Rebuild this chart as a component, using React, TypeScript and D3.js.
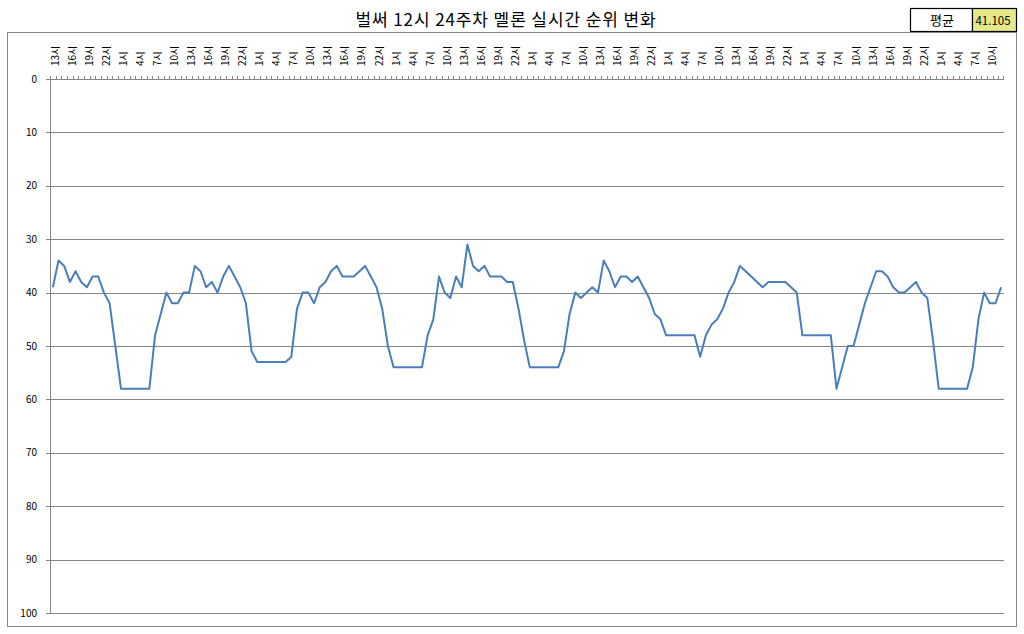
import React from "react";
import * as d3 from "d3";

const title = "벌써 12시 24주차 멜론 실시간 순위 변화";
const avgLabel = "평균";
const avgValue = "41.105";

const tickLabels = [
  "13시","16시","19시","22시","1시","4시","7시","10시",
  "13시","16시","19시","22시","1시","4시","7시","10시",
  "13시","16시","19시","22시","1시","4시","7시","10시",
  "13시","16시","19시","22시","1시","4시","7시","10시",
  "13시","16시","19시","22시","1시","4시","7시","10시",
  "13시","16시","19시","22시","1시","4시","7시","10시",
  "13시","16시","19시","22시","1시","4시","7시","10시",
];

const ranks = [
  39,34,35,38,36,38,39,37,37,40,42,50,
  58,58,58,58,58,58,
  48,44,40,42,42,40,40,35,36,39,38,40,37,35,37,39,42,51,
  53,53,53,53,53,53,
  52,43,40,40,42,39,38,36,35,37,37,37,36,35,37,39,43,50,
  54,54,54,54,54,54,
  48,45,37,40,41,37,39,31,35,36,35,37,37,37,38,38,43,49,
  54,54,54,54,54,54,
  51,44,40,41,40,39,40,34,36,39,37,37,38,37,39,41,44,45,
  48,48,48,48,48,48,
  52,48,46,45,43,40,38,35,36,37,38,39,38,38,38,38,39,40,
  48,48,48,48,48,48,
  58,54,50,50,46,42,39,36,36,37,39,40,40,39,38,40,41,49,
  58,58,58,58,58,58,
  54,45,40,42,42,39,
];

const yTicks = [0, 10, 20, 30, 40, 50, 60, 70, 80, 90, 100];

export default function App() {
  const W = 1024, H = 634;
  const left = 50, right = 1004, top = 79, bottom = 613;
  const font = "'Noto Sans CJK KR', 'Noto Sans', sans-serif";
  const grid = "#868686";

  const x = d3.scaleBand<number>().domain(d3.range(ranks.length)).range([left, right]).padding(0);
  const cx = (i: number) => (x(i) as number) + x.bandwidth() / 2;
  const y = d3.scaleLinear().domain([0, 100]).range([top, bottom]);

  const line = d3.line<number>().x((_, i) => cx(i)).y((d) => y(d));

  return (
    <svg width={W} height={H} style={{ position: "absolute", left: 0, top: 0 }} xmlns="http://www.w3.org/2000/svg">
      <rect x={0} y={0} width={W} height={H} fill="#fff" />
      <text x={506} y={26} textAnchor="middle" fontFamily={font} fontSize={17} letterSpacing={0.9} fill="#000">{title}</text>

      {/* average box */}
      <rect x={910.5} y={8.5} width={62} height={23} fill="#fff" stroke="#000" strokeWidth={1.2} />
      <rect x={972.5} y={8.5} width={44} height={23} fill="#e6e68a" stroke="#000" strokeWidth={1.2} />
      <text x={942} y={25} textAnchor="middle" fontFamily={font} fontSize={13} fill="#000">{avgLabel}</text>
      <text x={993} y={24.5} textAnchor="middle" fontFamily={font} fontSize={11.5} fill="#000">{avgValue}</text>

      {/* chart border */}
      <rect x={7.5} y={32.5} width={1009} height={594} fill="none" stroke={grid} strokeWidth={1} />

      {/* gridlines */}
      {yTicks.filter((t) => t > 0).map((t) => (
        <line key={"g" + t} x1={left} x2={right} y1={Math.round(y(t)) + 0.5} y2={Math.round(y(t)) + 0.5} stroke={grid} strokeWidth={1} />
      ))}
      {/* y ticks and labels */}
      {yTicks.map((t) => (
        <g key={"y" + t}>
          <line x1={left - 4} x2={left} y1={Math.round(y(t)) + 0.5} y2={Math.round(y(t)) + 0.5} stroke={grid} />
          <text x={37} y={y(t)} dy="0.35em" textAnchor="end" fontFamily={font} fontSize={10} fill="#000">{t}</text>
        </g>
      ))}
      {/* axes */}
      <line x1={left + 0.5} x2={left + 0.5} y1={top} y2={bottom} stroke={grid} />
      <line x1={left} x2={right} y1={top + 0.5} y2={top + 0.5} stroke={grid} />
      {/* x minor ticks */}
      {ranks.map((_, i) => (
        <line key={"t" + i} x1={Math.round(x(i) as number) + 0.5} x2={Math.round(x(i) as number) + 0.5} y1={top - 3} y2={top} stroke={grid} />
      ))}
      <line x1={right - 0.5} x2={right - 0.5} y1={top - 3} y2={top} stroke={grid} />
      {/* x labels */}
      {tickLabels.map((lab, k) => {
        const i = k * 3;
        const px = cx(i) + 2.5;
        return (
          <text key={"x" + k} transform={`translate(${px},66) rotate(-90)`} dy="0.35em" textAnchor="start" fontFamily={font} fontSize={10} fill="#000">{lab}</text>
        );
      })}

      <path d={line(ranks) || ""} fill="none" stroke="#4a7ebb" strokeWidth={2} strokeLinejoin="round" />
    </svg>
  );
}
